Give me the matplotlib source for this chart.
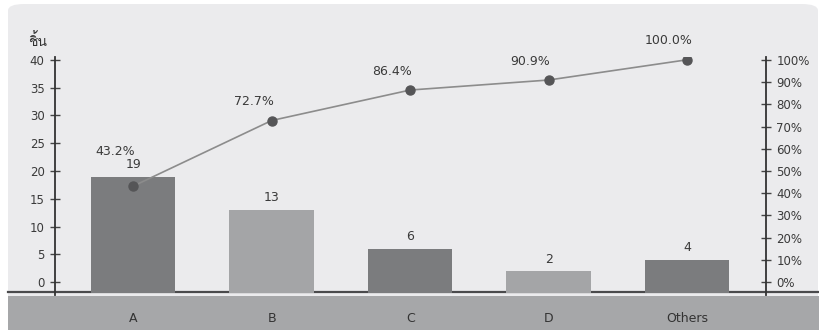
import matplotlib
matplotlib.use('Agg')
import matplotlib.pyplot as plt
import matplotlib.transforms as mtransforms
from matplotlib import font_manager
from matplotlib.ft2font import FT2Font
from matplotlib.patches import FancyBboxPatch, Rectangle
from matplotlib.lines import Line2D

# Данные
categories = ['A', 'B', 'C', 'D', 'Others']
counts = [19, 13, 6, 2, 4]
cum_pct = [43.2, 72.7, 86.4, 90.9, 100.0]
left_ticks = [0, 5, 10, 15, 20, 25, 30, 35, 40]
right_ticks = [0, 10, 20, 30, 40, 50, 60, 70, 80, 90, 100]
unit_label = 'ชิ้น'

bar_colors = ['#7b7c7e', '#a4a5a7', '#7b7c7e', '#a4a5a7', '#7b7c7e']


# Поиск шрифта с тайскими символами
def find_thai_font():
    seen = set()
    for f in font_manager.fontManager.ttflist:
        if f.fname in seen:
            continue
        seen.add(f.fname)
        try:
            cmap = FT2Font(f.fname).get_charmap()
        except Exception:
            continue
        if 0x0E0A in cmap and 0x0E34 in cmap:
            return f.name
    return None


def main():
    plt.rcParams['font.family'] = ['DejaVu Sans']
    thai = find_thai_font()
    thai_family = [thai, 'DejaVu Sans'] if thai else ['DejaVu Sans']

    fig = plt.figure(figsize=(8.2, 3.3), dpi=100)
    fig.patch.set_facecolor('white')

    W, H = 820.0, 330.0
    # Фон панели
    fig.patches.append(FancyBboxPatch((8 / W, 0), (810 / W), (326 / H),
                                      boxstyle='round,pad=0,rounding_size=0.02',
                                      transform=fig.transFigure, facecolor='#ebebed',
                                      edgecolor='none', zorder=-3))
    # Нижняя полоса
    fig.patches.append(Rectangle((8 / W, 0), 812 / W, 34 / H, transform=fig.transFigure,
                                 facecolor='#a6a7a9', edgecolor='none', zorder=-2))
    fig.lines.append(Line2D([8 / W, 1], [1 - 292 / H] * 2, transform=fig.transFigure,
                            color='#4a4a4c', lw=1.6, zorder=-1))

    ax = fig.add_axes([55 / W, 1 - 295 / H, (766 - 55) / W, (295 - 57) / H])
    ax.set_facecolor('none')
    ylo, yhi = -2.3, 40.5
    ax.set_ylim(ylo, yhi)
    ax.set_xlim(-0.565, 4.57)

    base = -1.9
    x = list(range(len(categories)))
    ax.bar(x, [c - base for c in counts], bottom=base, width=0.61,
           color=bar_colors, zorder=2)
    for xi, c in zip(x, counts):
        ax.annotate(str(c), (xi, c), xytext=(0, 4), textcoords='offset points',
                    ha='center', va='bottom', fontsize=9, color='#3a3a3a')

    ax2 = ax.twinx()
    ax2.set_ylim(ylo * 2.5, yhi * 2.5)
    ax2.plot(x, cum_pct, color='#8c8c8c', lw=1.2, marker='o', markersize=6.5,
             markerfacecolor='#555557', markeredgecolor='#555557', zorder=3)
    for i, (xi, p) in enumerate(zip(x, cum_pct)):
        dy = 20 if i == 0 else 9
        ax2.annotate(f'{p:.1f}%', (xi, p), xytext=(-13, dy), textcoords='offset points',
                     ha='center', va='bottom', fontsize=9, color='#3a3a3a')

    for a in (ax, ax2):
        for s in ('top', 'bottom', 'left', 'right'):
            a.spines[s].set_visible(False)
        a.set_xticks([])
    ax.spines['left'].set_visible(True)
    ax.spines['left'].set_color('#333333')
    ax.spines['left'].set_linewidth(1.3)
    ax2.spines['right'].set_visible(True)
    ax2.spines['right'].set_color('#333333')
    ax2.spines['right'].set_linewidth(1.3)

    ax.set_yticks(left_ticks)
    ax.set_yticklabels([str(t) for t in left_ticks])
    ax.tick_params(axis='y', direction='inout', length=7, width=1, color='#444444',
                   labelsize=8.5, labelcolor='#3a3a3a', pad=4)
    ax2.set_yticks(right_ticks)
    ax2.set_yticklabels([f'{t}%' for t in right_ticks])
    ax2.tick_params(axis='y', direction='inout', length=7, width=1, color='#444444',
                    labelsize=8.5, labelcolor='#3a3a3a', pad=4)

    # Подписи категорий в нижней полосе
    trans = mtransforms.blended_transform_factory(ax.transData, fig.transFigure)
    for xi, name in zip(x, categories):
        ax.text(xi, 1 - 318 / H, name, transform=trans, clip_on=False,
                ha='center', va='center', fontsize=9, color='#333333')

    fig.text(28 / W, 1 - 41 / H, unit_label, family=thai_family, fontsize=10,
             color='#333333', va='center', ha='left')

    plt.savefig('out.png', dpi=100, facecolor=fig.get_facecolor())


if __name__ == '__main__':
    main()
